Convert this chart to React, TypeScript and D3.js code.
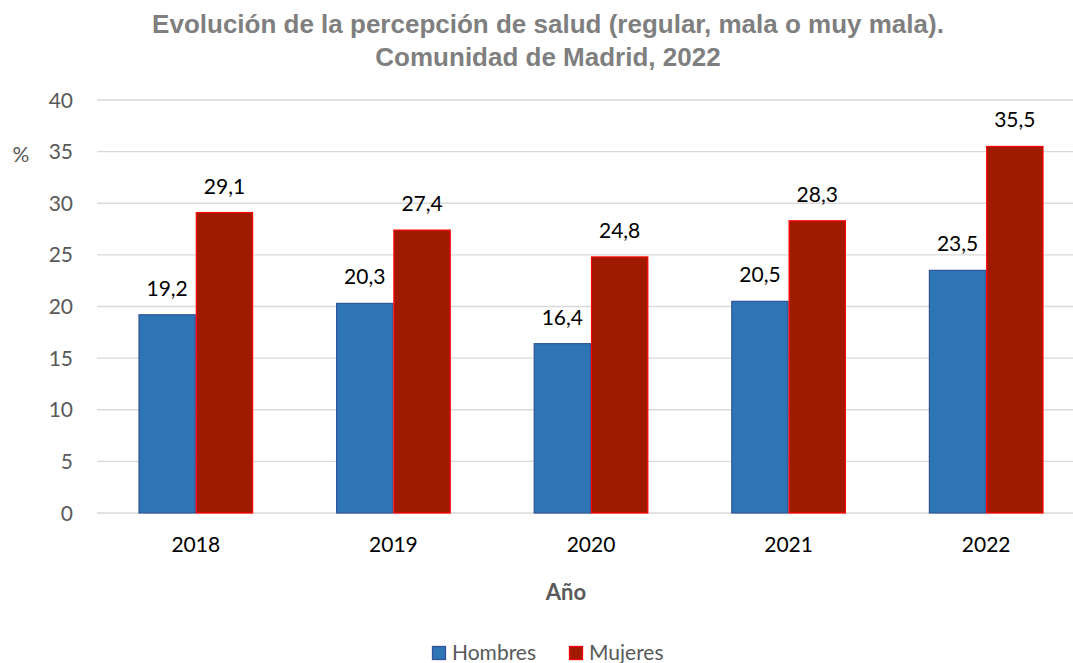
import React, { useEffect, useRef } from "react";
import * as d3 from "d3";

const years = ["2018", "2019", "2020", "2021", "2022"];
const hombres = [19.2, 20.3, 16.4, 20.5, 23.5];
const mujeres = [29.1, 27.4, 24.8, 28.3, 35.5];
const yTicks = [0, 5, 10, 15, 20, 25, 30, 35, 40];
const seriesNames = ["Hombres", "Mujeres"];

const fills = ["#2E75B6", "#A01A00"];
const strokes = ["#2F5597", "#FF0000"];

const App: React.FC = () => {
  const svgRef = useRef<SVGSVGElement | null>(null);

  useEffect(() => {
    if (!svgRef.current) return;
    const svg = d3.select(svgRef.current);
    svg.selectAll("*").remove();

    const width = 1073;
    const height = 663;
    const font = "Lato, 'Noto Sans', sans-serif";

    svg.attr("width", width).attr("height", height);

    const x0 = d3
      .scaleBand<string>()
      .domain(years)
      .range([97, 1085])
      .paddingInner(0.42)
      .paddingOuter(0.21);
    const x1 = d3
      .scaleBand<string>()
      .domain(seriesNames)
      .range([0, x0.bandwidth()]);
    const y = d3.scaleLinear().domain([0, 40]).range([513, 100]);

    // gridlines
    svg
      .append("g")
      .selectAll("line")
      .data(yTicks)
      .enter()
      .append("line")
      .attr("x1", 97)
      .attr("x2", width)
      .attr("y1", (d) => y(d))
      .attr("y2", (d) => y(d))
      .attr("stroke", "#d9d9d9")
      .attr("stroke-width", 1.3);

    // y tick labels
    svg
      .append("g")
      .selectAll("text")
      .data(yTicks)
      .enter()
      .append("text")
      .attr("x", 73)
      .attr("y", (d) => y(d))
      .attr("dy", "0.36em")
      .attr("text-anchor", "end")
      .attr("font-family", font)
      .attr("font-size", 21)
      .attr("fill", "#595959")
      .text((d) => d);

    svg
      .append("text")
      .attr("x", 21)
      .attr("y", 162)
      .attr("text-anchor", "middle")
      .attr("font-family", font)
      .attr("font-size", 21)
      .attr("fill", "#595959")
      .text("%");

    const data = years.map((yr, i) => ({
      year: yr,
      vals: [hombres[i], mujeres[i]],
    }));

    const groups = svg
      .append("g")
      .selectAll("g")
      .data(data)
      .enter()
      .append("g")
      .attr("transform", (d) => `translate(${x0(d.year)},0)`);

    groups
      .selectAll("rect")
      .data((d) => d.vals.map((v, j) => ({ v, j })))
      .enter()
      .append("rect")
      .attr("x", (d) => (x1(seriesNames[d.j]) as number) + 0.5)
      .attr("y", (d) => y(d.v))
      .attr("width", x1.bandwidth() - 1)
      .attr("height", (d) => y(0) - y(d.v))
      .attr("fill", (d) => fills[d.j])
      .attr("stroke", (d) => strokes[d.j])
      .attr("stroke-width", 1.2);

    groups
      .selectAll("text")
      .data((d) => d.vals.map((v, j) => ({ v, j })))
      .enter()
      .append("text")
      .attr("x", (d) => (x1(seriesNames[d.j]) as number) + x1.bandwidth() / 2)
      .attr("y", (d) => y(d.v) - 19)
      .attr("text-anchor", "middle")
      .attr("font-family", font)
      .attr("font-size", 21)
      .attr("fill", "#000")
      .text((d) => d.v.toFixed(1).replace(".", ","));

    // x labels
    svg
      .append("g")
      .selectAll("text")
      .data(years)
      .enter()
      .append("text")
      .attr("x", (d) => (x0(d) as number) + x0.bandwidth() / 2)
      .attr("y", 552)
      .attr("text-anchor", "middle")
      .attr("font-family", font)
      .attr("font-size", 21)
      .attr("fill", "#000")
      .text((d) => d);

    svg
      .append("text")
      .attr("x", 566)
      .attr("y", 600)
      .attr("text-anchor", "middle")
      .attr("font-family", font)
      .attr("font-size", 22)
      .attr("font-weight", "bold")
      .attr("fill", "#595959")
      .text("Año");

    // title
    const title = svg
      .append("text")
      .attr("text-anchor", "middle")
      .attr("font-family", "'Liberation Sans', Arial, sans-serif")
      .attr("font-size", 26)
      .attr("font-weight", "bold")
      .attr("fill", "#7f7f7f");
    title
      .append("tspan")
      .attr("x", 548)
      .attr("y", 33)
      .text("Evolución de la percepción de salud (regular, mala o muy mala).");
    title
      .append("tspan")
      .attr("x", 548)
      .attr("y", 66)
      .text("Comunidad de Madrid, 2022");

    // legend
    const legendX = [432, 569];
    const legend = svg
      .append("g")
      .selectAll("g")
      .data(seriesNames)
      .enter()
      .append("g")
      .attr("transform", (_, i) => `translate(${legendX[i]},646)`);
    legend
      .append("rect")
      .attr("x", 0.5)
      .attr("y", 0.5)
      .attr("width", 13)
      .attr("height", 13)
      .attr("fill", (_, i) => fills[i])
      .attr("stroke", (_, i) => strokes[i])
      .attr("stroke-width", 1.3);
    legend
      .append("text")
      .attr("x", 20)
      .attr("y", 14)
      .attr("font-family", font)
      .attr("font-size", 21)
      .attr("fill", "#595959")
      .text((d) => d);
  }, []);

  return <svg ref={svgRef} style={{ position: "absolute", left: 0, top: 0 }}></svg>;
};

export default App;
